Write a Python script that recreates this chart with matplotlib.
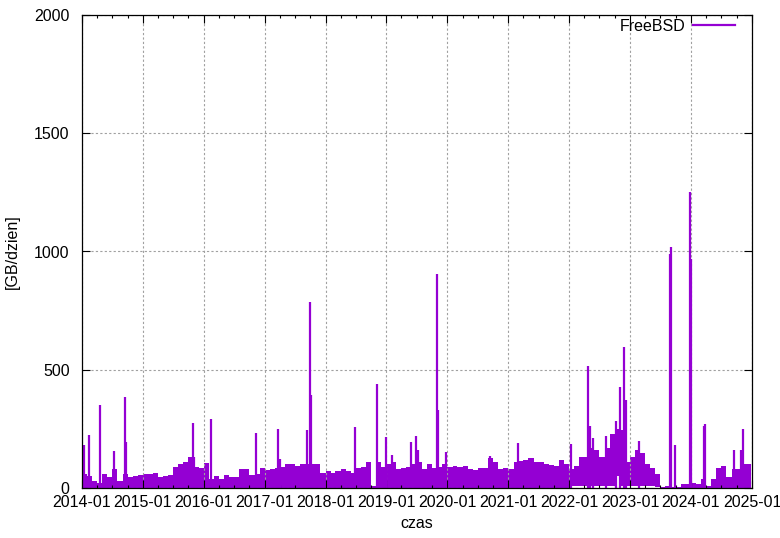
import matplotlib
matplotlib.use("Agg")
import matplotlib.pyplot as plt
import matplotlib.dates as mdates
from matplotlib.lines import Line2D
import pandas as pd
import numpy as np

plt.rcParams['font.family'] = ['Liberation Sans', 'DejaVu Sans']

# monthly baseline level (GB/day), Jan 2014 .. Nov 2024
base_high = [60, 50, 28, 20, 60, 45, 80, 30, 60, 45, 50, 55,
             60, 60, 65, 45, 50, 55, 90, 100, 110, 130, 90, 85,
             105, 40, 50, 38, 55, 45, 45, 80, 80, 55, 60, 85,
             75, 80, 85, 90, 100, 100, 95, 100, 100, 100, 100, 65,
             72, 65, 72, 80, 70, 65, 85, 90, 110, 8, 112, 90,
             100, 110, 80, 85, 90, 100, 110, 80, 100, 85, 90, 100,
             88, 92, 90, 95, 80, 75, 85, 85, 125, 110, 80, 85,
             80, 110, 115, 120, 125, 110, 110, 100, 98, 95, 120, 100,
             80, 95, 130, 130, 170, 160, 130, 170, 230, 250, 245, 110,
             130, 160, 150, 100, 85, 60, 5, 10, 5, 5, 15, 15,
             20, 15, 40, 10, 40, 85, 95, 45, 80, 80, 100]
base_low = [0] * 96 + [10, 10, 10, 10, 10, 10, 10, 10, 10, 50, 10, 10,
                       10, 10, 10, 10, 10, 5] + [0] * 17

# single-day peaks
spike_dates = ['2014-01-13', '2014-02-10', '2014-04-17', '2014-07-11', '2014-09-13',
               '2014-09-19', '2015-10-28', '2015-11-06', '2016-02-12', '2016-11-10',
               '2017-03-22', '2017-04-01', '2017-09-13', '2017-09-28', '2017-10-04',
               '2018-06-28', '2018-11-07', '2018-12-28', '2019-02-01', '2019-05-28',
               '2019-06-28', '2019-07-10', '2019-10-28', '2019-11-07', '2019-12-25',
               '2020-09-10', '2021-02-27', '2022-01-13', '2022-04-26', '2022-05-04',
               '2022-05-25', '2022-08-07', '2022-10-10', '2022-10-30', '2022-11-24',
               '2022-12-10', '2023-02-21', '2023-08-28', '2023-09-01', '2023-09-25',
               '2023-12-27', '2023-12-30', '2024-03-19', '2024-03-28', '2024-09-15',
               '2024-10-30', '2024-11-06']
spike_values = [182, 224, 351, 156, 383, 194, 273, 130, 292, 233,
                249, 123, 245, 785, 393, 258, 440, 217, 140, 194,
                219, 162, 905, 330, 152, 135, 190, 186, 516, 262,
                211, 220, 283, 427, 596, 372, 199, 990, 1020, 182,
                1250, 970, 262, 270, 160, 160, 249]

series_name = 'FreeBSD'
x_label = 'czas'
y_label = '[GB/dzien]'
y_ticks = [0, 500, 1000, 1500, 2000]

color = '#9400D3'

months = pd.date_range('2014-01-01', periods=len(base_high), freq='MS')
edges = list(months) + [pd.Timestamp('2024-12-28')]
hi = list(base_high) + [base_high[-1]]
lo = list(base_low) + [base_low[-1]]

fig = plt.figure(figsize=(7.8, 5.38), dpi=100)
ax = fig.add_axes([82 / 780, 50 / 538, (752 - 82) / 780, (488 - 15) / 538])

ax.fill_between(edges, lo, hi, step='post', color=color, linewidth=0)
ax.vlines(pd.to_datetime(spike_dates), 0, spike_values, color=color, linewidth=1.6)

ax.set_xlim(pd.Timestamp('2014-01-01'), pd.Timestamp('2025-01-01'))
ax.set_ylim(0, 2000)
ax.set_yticks(y_ticks)
ax.xaxis.set_major_locator(mdates.YearLocator())
ax.xaxis.set_minor_locator(mdates.MonthLocator(bymonth=[4, 7, 10]))
ax.xaxis.set_major_formatter(mdates.DateFormatter('%Y-%m'))

ax.tick_params(axis='both', which='both', direction='in', top=True, right=True,
               labelsize=11.5, colors='black')
ax.tick_params(which='major', length=5.5, width=0.8)
ax.tick_params(axis='y', which='major', pad=9)
ax.tick_params(axis='x', which='major', pad=5)
ax.tick_params(which='minor', length=2.5, width=0.8)
for s in ax.spines.values():
    s.set_linewidth(0.9)
    s.set_color('black')

ax.grid(True, which='major', color='#a0a0a0', linewidth=0.8, linestyle=(0, (2, 2)))
for gl in ax.get_xgridlines() + ax.get_ygridlines():
    gl.set_zorder(0.5)

ax.set_xlabel(x_label, fontsize=11.5, labelpad=4.5)
ax.set_ylabel(y_label, fontsize=11.5, labelpad=10)

handle = Line2D([0], [0], color=color, linewidth=1.6)
ax.legend([handle], [series_name], loc='upper right', frameon=False, markerfirst=False,
          fontsize=11.5, handlelength=2.6, borderaxespad=0, borderpad=0,
          handletextpad=0.5, bbox_to_anchor=(0.9746, 0.992))

fig.savefig('out.png', dpi=100)
